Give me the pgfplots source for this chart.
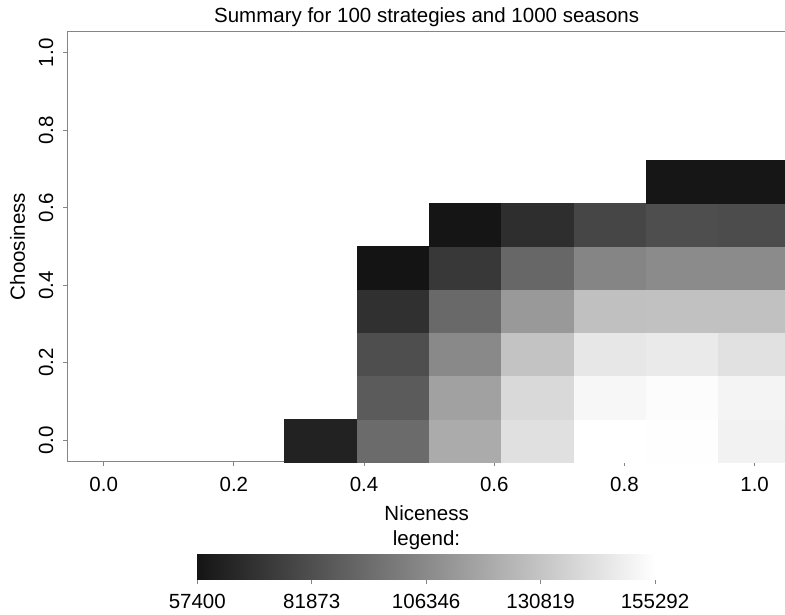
\documentclass[border=0pt]{standalone}
\usepackage{fontspec}
\setmainfont{Liberation Sans}
\usepackage{pgfplots}
\usepackage{pgfplotstable}
\pgfplotsset{compat=1.18}

\newcommand\fs{\fontsize{20.5bp}{24bp}\selectfont}

% Mean payoff per (niceness, choosiness) strategy; grid step 1/9
\pgfplotstableread{
x      y      v
0.3333 0.0000 63040
0.4444 0.0000 93150
0.4444 0.1111 86450
0.4444 0.2222 81450
0.4444 0.3333 68890
0.4444 0.4444 57400
0.5556 0.0000 119860
0.5556 0.1111 115600
0.5556 0.2222 105600
0.5556 0.3333 92300
0.5556 0.4444 72300
0.5556 0.5556 57750
0.6667 0.0000 141570
0.6667 0.1111 139010
0.6667 0.2222 129860
0.6667 0.3333 112300
0.6667 0.4444 91450
0.6667 0.5556 68040
0.7778 0.0000 155292
0.7778 0.1111 151140
0.7778 0.2222 144860
0.7778 0.3333 128580
0.7778 0.4444 104000
0.7778 0.5556 78150
0.8889 0.0000 154010
0.8889 0.1111 153160
0.8889 0.2222 145720
0.8889 0.3333 129010
0.8889 0.4444 106450
0.8889 0.5556 81450
0.8889 0.6667 58100
1.0000 0.0000 149010
1.0000 0.1111 149870
1.0000 0.2222 141990
1.0000 0.3333 129010
1.0000 0.4444 106450
1.0000 0.5556 80600
1.0000 0.6667 58000
}\cells

\definecolor{axisgray}{HTML}{858585}

\pgfplotsset{
  payoff map/.style={
    colormap={bw}{gray(0cm)=(0.08); gray(1cm)=(1)},
    point meta min=57400, point meta max=155292,
  },
}

\begin{document}
\begin{tikzpicture}
\useasboundingbox (0,0) rectangle (785bp,615bp);
\begin{axis}[
  at={(67.5bp,153.3bp)}, anchor=south west,
  scale only axis, width=723.3bp, height=430.4bp,
  xmin=-0.05556, xmax=1.05556, ymin=-0.05556, ymax=1.05556,
  xtick={0,0.2,0.4,0.6,0.8,1}, xticklabels={0.0,0.2,0.4,0.6,0.8,1.0},
  ytick={0,0.2,0.4,0.6,0.8,1}, yticklabels={0.0,0.2,0.4,0.6,0.8,1.0},
  xtick pos=lower, ytick pos=left,
  tick align=outside, major tick length=4.5bp,
  axis on top,
  axis line style={axisgray, line width=1.1bp},
  tick style={axisgray, line width=1bp},
  xticklabel style={font=\fs, anchor=base},
  xticklabel shift=25bp,
  yticklabel style={font=\fs, rotate=90, anchor=base},
  yticklabel shift=10bp,
  title={Summary for 100 strategies and 1000 seasons},
  every axis title/.style={at={(rel axis cs:0.5,1)}, xshift=-2.5bp, yshift=9bp, anchor=base, font=\fs},
  xlabel={Niceness},
  every axis x label/.style={at={(rel axis cs:0.5,0)}, xshift=-2.5bp, yshift=-58.3bp, anchor=base, font=\fs},
  ylabel={Choosiness},
  every axis y label/.style={at={(rel axis cs:0,0.5)}, xshift=-42.5bp, rotate=90, anchor=base, font=\fs},
  payoff map,
]
\addplot[scatter, only marks, mark=square*, mark size=1pt,
  scatter src=explicit,
  scatter/use mapped color={draw=mapped color, fill=mapped color},
  mark options={xscale=36.3, yscale=21.6, line width=0.3pt}]
  table[x=x, y=y, meta=v] {\cells};
\end{axis}

% colour key
\begin{axis}[
  at={(197.3bp,35.7bp)}, anchor=south west,
  scale only axis, width=457.7bp, height=25bp,
  xmin=57400, xmax=155292, ymin=0, ymax=1,
  axis x line*=bottom, axis y line=none,
  xtick={57400,81873,106346,130819,155292},
  xticklabels={57400,81873,106346,130819,155292},
  scaled x ticks=false,
  xtick align=outside, major tick length=4.5bp,
  axis line style={axisgray, line width=1bp, -},
  tick style={axisgray, line width=1bp},
  xticklabel style={font=\fs, anchor=base},
  xticklabel shift=25bp,
  payoff map,
]
\addplot[surf, shader=interp, point meta=x] coordinates {
  (57400,0) (155292,0)

  (57400,1) (155292,1)
};
\end{axis}
\node[font=\fs, anchor=base] at (426.5bp,69bp) {legend:};
\end{tikzpicture}
\end{document}
